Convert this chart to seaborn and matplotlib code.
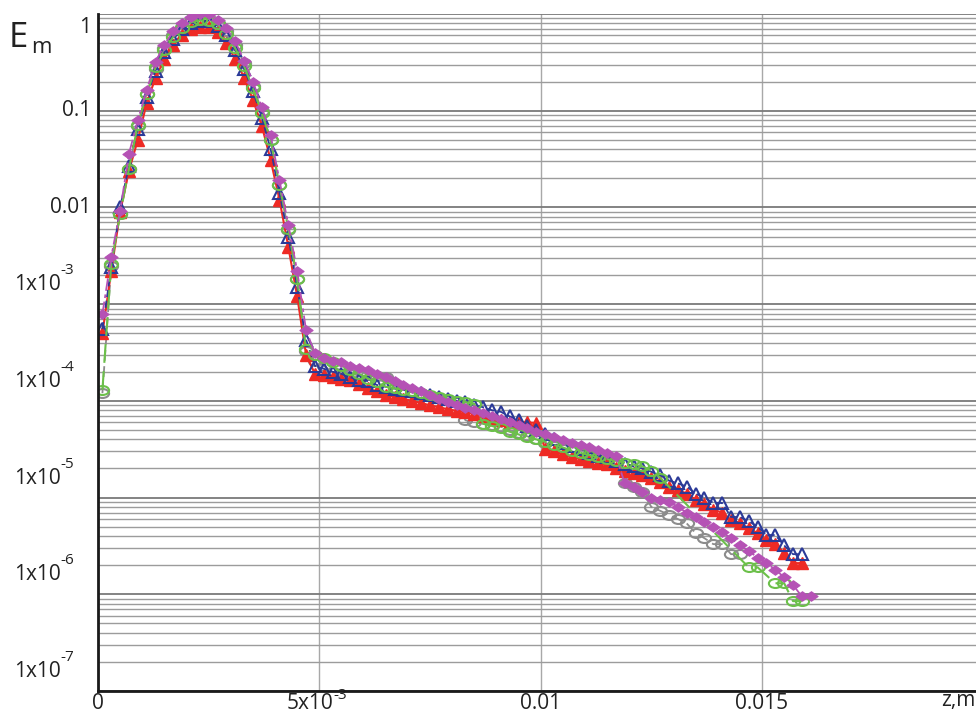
import numpy as np
import pandas as pd
import matplotlib
matplotlib.use("Agg")
import matplotlib.pyplot as plt
import seaborn as sns
from matplotlib.path import Path
from matplotlib.ticker import LogLocator, NullFormatter

# ---------------- data ----------------
z = [0.0001, 0.0003, 0.0005, 0.0007, 0.0009, 0.0011, 0.0013, 0.0015, 0.0017, 0.0019,
     0.0021, 0.0023, 0.0025, 0.0027, 0.0029, 0.0031, 0.0033, 0.0035, 0.0037, 0.0039,
     0.0041, 0.0043, 0.0045, 0.0047, 0.0049, 0.0051, 0.0053, 0.0055, 0.0057, 0.0059,
     0.0061, 0.0063, 0.0065, 0.0067, 0.0069, 0.0071, 0.0073, 0.0075, 0.0077, 0.0079,
     0.0081, 0.0083, 0.0085, 0.0087, 0.0089, 0.0091, 0.0093, 0.0095, 0.0097, 0.0099,
     0.0101, 0.0103, 0.0105, 0.0107, 0.0109, 0.0111, 0.0113, 0.0115, 0.0117, 0.0119,
     0.0121, 0.0123, 0.0125, 0.0127, 0.0129, 0.0131, 0.0133, 0.0135, 0.0137, 0.0139,
     0.0141, 0.0143, 0.0145, 0.0147, 0.0149, 0.0151, 0.0153, 0.0155, 0.0157, 0.0159,
     0.0161]

E_grey = [1.2e-4, 2.5e-3, 8.5e-3, 0.025, 0.070, 0.15, 0.27, 0.44, 0.60, 0.74,
          0.85, 0.88, 0.88, 0.80, 0.66, 0.48, 0.31, 0.18, 0.10, 0.05,
          0.017, 5.8e-3, 1.8e-3, 3.3e-4, 2.6e-4, 2.3e-4, 2.0e-4, 1.9e-4, 1.9e-4, 1.85e-4,
          1.85e-4, 1.8e-4, 1.75e-4, 1.35e-4, 1.3e-4, 1.22e-4, 1.17e-4, 1.12e-4, 1.07e-4, 1.02e-4,
          9.8e-5, 6.3e-5, 6.0e-5, 5.8e-5, 5.6e-5, 5.4e-5, 5.0e-5, 4.6e-5, 4.3e-5, 4.0e-5,
          3.7e-5, 3.4e-5, 3.2e-5, 3.0e-5, 2.8e-5, 2.6e-5, 2.4e-5, 2.3e-5, 2.2e-5, 1.4e-5,
          1.3e-5, 1.15e-5, 8.0e-6, 7.3e-6, 6.6e-6, 6.0e-6, 5.4e-6, 4.3e-6, 3.8e-6, 3.3e-6,
          3.3e-6, 2.6e-6, 2.6e-6, None, None, None, None, None, None, None,
          None]

E_green = [1.3e-4, 2.6e-3, 8.5e-3, 0.025, 0.072, 0.15, 0.28, 0.42, 0.58, 0.72,
           0.82, 0.86, 0.85, 0.78, 0.62, 0.44, 0.29, 0.17, 0.095, 0.05,
           0.017, 6.0e-3, 1.8e-3, 3.4e-4, 3.0e-4, 2.8e-4, 2.55e-4, 2.3e-4, 2.1e-4, 1.9e-4,
           1.7e-4, 1.55e-4, 1.4e-4, 1.35e-4, 1.3e-4, 1.25e-4, 1.2e-4, 1.15e-4, 1.1e-4, 1.05e-4,
           1.0e-4, 9.7e-5, 9.3e-5, 5.8e-5, 5.5e-5, 5.2e-5, 4.8e-5, 4.5e-5, 4.2e-5, 4.0e-5,
           3.8e-5, 3.5e-5, 3.3e-5, 3.05e-5, 2.9e-5, 2.75e-5, 2.6e-5, 2.5e-5, 2.4e-5, 2.3e-5,
           2.2e-5, 2.1e-5, 1.9e-5, 1.6e-5, None, None, None, None, None, None,
           None, None, None, 1.9e-6, 1.9e-6, None, 1.3e-6, 1.3e-6, 8.5e-7, 8.5e-7,
           None]

E_blue = [5.5e-4, 2.4e-3, 1.0e-2, 0.027, 0.065, 0.14, 0.26, 0.40, 0.55, 0.70,
          0.80, 0.85, 0.85, 0.76, 0.60, 0.42, 0.27, 0.16, 0.085, 0.04,
          0.014, 5.0e-3, 1.5e-3, 4.3e-4, 2.3e-4, 2.15e-4, 2.0e-4, 1.9e-4, 1.75e-4, 1.65e-4,
          1.6e-4, 1.46e-4, 1.4e-4, 1.34e-4, 1.3e-4, 1.25e-4, 1.2e-4, 1.15e-4, 1.1e-4, 1.05e-4,
          1.0e-4, 9.7e-5, 9.0e-5, 8.6e-5, 8.0e-5, 7.7e-5, 6.9e-5, 6.3e-5, 5.5e-5, 5.0e-5,
          4.5e-5, 4.0e-5, 3.7e-5, 3.4e-5, 3.2e-5, 2.9e-5, 2.7e-5, 2.6e-5, 2.4e-5, 2.25e-5,
          2.1e-5, 2.0e-5, 1.85e-5, 1.7e-5, 1.5e-5, 1.4e-5, 1.3e-5, 1.1e-5, 1.0e-5, 8.8e-6,
          8.8e-6, 6.3e-6, 6.3e-6, 5.7e-6, 5.0e-6, 4.1e-6, 4.1e-6, 3.2e-6, 2.6e-6, 2.6e-6,
          None]

E_red = [5.0e-4, 2.2e-3, 9.0e-3, 0.024, 0.050, 0.12, 0.22, 0.34, 0.48, 0.60,
         0.70, 0.74, 0.74, 0.65, 0.50, 0.34, 0.22, 0.13, 0.07, 0.031,
         0.012, 3.9e-3, 1.2e-3, 3.0e-4, 1.9e-4, 1.85e-4, 1.75e-4, 1.7e-4, 1.65e-4, 1.5e-4,
         1.35e-4, 1.25e-4, 1.15e-4, 1.1e-4, 1.05e-4, 1.0e-4, 9.5e-5, 9.0e-5, 8.6e-5, 8.2e-5,
         7.9e-5, 7.7e-5, 7.3e-5, 7.0e-5, 6.7e-5, 6.4e-5, 6.1e-5, 6.0e-5, 6.0e-5, 5.9e-5,
         3.2e-5, 3.0e-5, 2.8e-5, 2.65e-5, 2.5e-5, 2.4e-5, 2.3e-5, 2.2e-5, 2.0e-5, 1.9e-5,
         1.8e-5, 1.7e-5, 1.6e-5, 1.45e-5, 1.3e-5, 1.2e-5, 1.1e-5, 9.5e-6, 8.5e-6, 7.5e-6,
         7.0e-6, 5.8e-6, 5.5e-6, 4.8e-6, 4.3e-6, 3.6e-6, 3.3e-6, 2.7e-6, 2.1e-6, 2.1e-6,
         None]

E_magenta = [7.9e-4, 3.1e-3, 9.2e-3, 0.036, 0.080, 0.164, 0.32, 0.48, 0.66, 0.80,
             0.94, 1.0, 1.0, 0.87, 0.72, 0.52, 0.33, 0.20, 0.11, 0.056,
             0.019, 6.6e-3, 2.2e-3, 5.4e-4, 3.1e-4, 2.8e-4, 2.6e-4, 2.5e-4, 2.3e-4, 2.2e-4,
             2.1e-4, 1.9e-4, 1.75e-4, 1.6e-4, 1.45e-4, 1.35e-4, 1.25e-4, 1.15e-4, 1.05e-4, 9.8e-5,
             9.0e-5, 8.4e-5, 8.0e-5, 7.5e-5, 7.0e-5, 6.5e-5, 6.0e-5, 5.6e-5, 5.2e-5, 4.8e-5,
             4.5e-5, 4.2e-5, 3.9e-5, 3.7e-5, 3.5e-5, 3.3e-5, 3.1e-5, 2.9e-5, 2.7e-5, 1.4e-5,
             1.3e-5, 1.15e-5, 1.0e-5, 9.5e-6, 9.0e-6, 8.0e-6, 7.0e-6, 6.3e-6, 5.6e-6, 5.0e-6,
             4.4e-6, 3.8e-6, 3.2e-6, 2.8e-6, 2.4e-6, 2.1e-6, 1.8e-6, 1.5e-6, 1.25e-6, 9.5e-7,
             9.5e-7]

# tick labels: (base, superscript)
x_ticks = [0, 0.005, 0.01, 0.015]
x_ticklabels = [("0", ""), ("5x10", "-3"), ("0.01", ""), ("0.015", "")]
y_ticks = [1, 0.1, 0.01, 1e-3, 1e-4, 1e-5, 1e-6, 1e-7]
y_ticklabels = [("1", ""), ("0.1", ""), ("0.01", ""), ("1x10", "-3"), ("1x10", "-4"),
                ("1x10", "-5"), ("1x10", "-6"), ("1x10", "-7")]

# ---------------- style ----------------
sns.set_style("white")
plt.rcParams['font.family'] = ['Open Sans', 'DejaVu Sans']

TXT = "#222222"
FS = 15
FS_SUP = 11
fig = plt.figure(figsize=(9.76, 7.14), dpi=100)
ax = fig.add_axes([0.1004, 0.0322, 0.8996, 0.9482])

# custom wide markers
circ = Path.unit_circle()
ellipse = Path(circ.vertices * np.array([1.0, 0.68]), circ.codes)
wdiamond = Path([(-1, 0), (0, 0.72), (1, 0), (0, -0.72), (-1, 0)],
                [Path.MOVETO, Path.LINETO, Path.LINETO, Path.LINETO, Path.CLOSEPOLY])

series = [
    ("grey", E_grey, dict(color="#8c8c8c", marker=ellipse, markersize=9.5, mfc="none",
                          mec="#8c8c8c", mew=1.5, linestyle=(0, (6, 3)), linewidth=1.3)),
    ("red", E_red, dict(color="#ee2a24", marker="^", markersize=9, mfc="#ee2a24",
                        mec="#ee2a24", mew=1.0, linestyle="-", linewidth=1.5)),
    ("blue", E_blue, dict(color="#2b3a98", marker="^", markersize=9, mfc="none",
                          mec="#2b3a98", mew=1.5, linestyle=(0, (4, 2)), linewidth=1.3)),
    ("green", E_green, dict(color="#6cc04a", marker=ellipse, markersize=9.5, mfc="none",
                            mec="#6cc04a", mew=1.5, linestyle=(0, (9, 4)), linewidth=1.5)),
    ("magenta", E_magenta, dict(color="#b552b5", marker=wdiamond, markersize=9.5, mfc="#b552b5",
                                mec="#b552b5", mew=0.8, linestyle=(0, (7, 2, 2, 2)), linewidth=1.3)),
]

for name, vals, kw in series:
    df = pd.DataFrame({"z": z, "E": vals}).dropna()
    df["E"] = df["E"].astype(float)
    sns.lineplot(data=df, x="z", y="E", ax=ax, estimator=None, sort=False, **kw)

ax.set_yscale("log")
ax.set_xlim(0, 0.019834)
ax.set_ylim(1e-7, 1.0)

# grid
ax.yaxis.set_major_locator(LogLocator(base=10, numticks=20))
ax.yaxis.set_minor_locator(LogLocator(base=10, subs=np.arange(2, 10), numticks=50))
ax.yaxis.set_minor_formatter(NullFormatter())
ax.grid(which="major", axis="y", color="#7a7a7a", linewidth=1.3)
ax.grid(which="minor", axis="y", color="#9c9c9c", linewidth=1.0)
ax.set_xticks(x_ticks)
ax.set_xticklabels([])
ax.grid(which="major", axis="x", color="#a8a8a8", linewidth=1.0)
ax.set_axisbelow(True)
ax.tick_params(axis="both", which="both", length=0)
ax.set_yticklabels([])
ax.set_xlabel("")
ax.set_ylabel("")

for s in ["top", "right"]:
    ax.spines[s].set_visible(False)
for s in ["left", "bottom"]:
    ax.spines[s].set_color("#1a1a1a")
    ax.spines[s].set_linewidth(2.0)
    ax.spines[s].set_zorder(5)

# x tick labels (on the data scale)
for v, (base, sup) in zip(x_ticks, x_ticklabels):
    if sup:
        ax.annotate(base, xy=(v, 0), xycoords=("data", "axes fraction"),
                    xytext=(10, -12.6), textcoords="offset points",
                    ha="right", va="baseline", fontsize=FS, color=TXT, annotation_clip=False)
        ax.annotate(sup, xy=(v, 0), xycoords=("data", "axes fraction"),
                    xytext=(10, -5.4), textcoords="offset points",
                    ha="left", va="baseline", fontsize=FS_SUP, color=TXT, annotation_clip=False)
    else:
        ax.annotate(base, xy=(v, 0), xycoords=("data", "axes fraction"),
                    xytext=(0, -12.6), textcoords="offset points",
                    ha="center", va="baseline", fontsize=FS, color=TXT, annotation_clip=False)

# y tick labels (on the data scale)
for v, (base, sup) in zip(y_ticks, y_ticklabels):
    if sup:
        ax.annotate(base, xy=(0, v), xycoords=("axes fraction", "data"),
                    xytext=(-27, 10), textcoords="offset points",
                    ha="right", va="baseline", fontsize=FS, color=TXT, annotation_clip=False)
        ax.annotate(sup, xy=(0, v), xycoords=("axes fraction", "data"),
                    xytext=(-27, 21.5), textcoords="offset points",
                    ha="left", va="baseline", fontsize=FS_SUP, color=TXT, annotation_clip=False)
    else:
        dy = -10 if v == 1 else 0
        ax.annotate(base, xy=(0, v), xycoords=("axes fraction", "data"),
                    xytext=(-5, dy), textcoords="offset points",
                    ha="right", va="center", fontsize=FS, color=TXT, annotation_clip=False)

# axis titles
fig.text(0.009, 0.9342, "E", fontsize=25, color=TXT, ha="left", va="baseline")
fig.text(0.032, 0.9258, "m", fontsize=16, color=TXT, ha="left", va="baseline")
fig.text(0.999, 0.0110, "z,m", fontsize=FS, color=TXT, ha="right", va="baseline")

fig.savefig("out.png", dpi=100)
